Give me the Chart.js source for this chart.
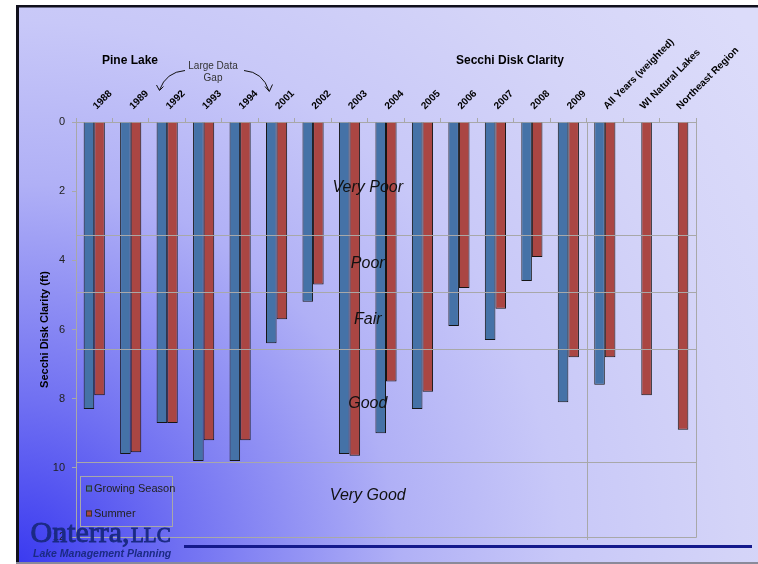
<!DOCTYPE html>
<html>
<head>
<meta charset="utf-8">
<script src="https://cdn.jsdelivr.net/npm/chart.js@4/dist/chart.umd.min.js"></script>
<style>
  html, body { margin: 0; padding: 0; background: #fff; }
  canvas { display: block; }
</style>
</head>
<body>
<canvas id="c" width="758" height="564"></canvas>
<script>
// Pine Lake Secchi disk clarity (ft), growing season and summer means
const categories = ['1988', '1989', '1992', '1993', '1994', '2001', '2002', '2003', '2004',
  '2005', '2006', '2007', '2008', '2009', 'All Years (weighted)', 'WI Natural Lakes', 'Northeast Region'];
const growingSeason = [8.3, 9.6, 8.7, 9.8, 9.8, 6.4, 5.2, 9.6, 9.0, 8.3, 5.9, 6.3, 4.6, 8.1, 7.6, null, null];
const summer = [7.9, 9.55, 8.7, 9.2, 9.2, 5.7, 4.7, 9.65, 7.5, 7.8, 4.8, 5.4, 3.9, 6.8, 6.8, 7.9, 8.9];
const yTicks = [0, 2, 4, 6, 8, 10, 12];

// Water clarity classes: break depths (ft) and label depths
const zoneBreaks = [3.28, 4.92, 6.56, 9.84];
const zoneNames = ['Very Poor', 'Poor', 'Fair', 'Good', 'Very Good'];
const zoneLabelDepths = [1.9, 4.1, 5.7, 8.15, 10.8];

const SANS = '"Liberation Sans", Arial, sans-serif';
const SERIF = '"Liberation Serif", "Times New Roman", serif';
const GRID = '#a8a8a8';

const decorations = {
  id: 'decorations',
  beforeDraw(chart) {
    const { ctx, width, height } = chart;
    ctx.save();
    ctx.fillStyle = '#fff';
    ctx.fillRect(0, 0, width, height);
    const g = ctx.createRadialGradient(18, 564, 0, 18, 564, 905);
    g.addColorStop(0, '#3a3af0');
    g.addColorStop(0.18, '#7070f2');
    g.addColorStop(0.3, '#9090f4');
    g.addColorStop(0.42, '#b0b0f6');
    g.addColorStop(0.6, '#c8c8f8');
    g.addColorStop(0.8, '#d4d4f8');
    g.addColorStop(1, '#dcdcfa');
    ctx.fillStyle = g;
    ctx.fillRect(18, 6, width - 18, height - 6);
    // slide frame
    ctx.fillStyle = '#10101c';
    ctx.fillRect(16, 5, 3, height - 5);
    ctx.fillRect(16, 5, width - 16, 2.5);
    ctx.fillStyle = '#8a8a9a';
    ctx.fillRect(16, 562, width - 16, 2);
    ctx.restore();
  },
  afterDatasetsDraw(chart) {
    const { ctx, chartArea: a, scales: { x, y } } = chart;
    ctx.save();
    ctx.strokeStyle = GRID;
    ctx.lineWidth = 1;
    // class break lines
    zoneBreaks.forEach(v => {
      const py = Math.round(y.getPixelForValue(v)) + 0.5;
      ctx.beginPath();
      ctx.moveTo(a.left, py);
      ctx.lineTo(a.right, py);
      ctx.stroke();
    });
    // separator between annual values and summary values
    const sx = Math.round(x.getPixelForValue(13.5)) + 0.5;
    ctx.beginPath();
    ctx.moveTo(sx, a.top);
    ctx.lineTo(sx, a.bottom + 3);
    ctx.stroke();
    // right and bottom edges of the plot
    ctx.beginPath();
    ctx.moveTo(Math.round(a.right) + 0.5, a.top);
    ctx.lineTo(Math.round(a.right) + 0.5, Math.round(a.bottom) + 0.5);
    ctx.lineTo(a.left, Math.round(a.bottom) + 0.5);
    ctx.stroke();
    // class names
    ctx.fillStyle = '#111';
    ctx.font = 'italic 16px ' + SANS;
    ctx.textAlign = 'center';
    ctx.textBaseline = 'middle';
    const cx = x.getPixelForValue(7.5);
    zoneNames.forEach((n, i) => ctx.fillText(n, cx, y.getPixelForValue(zoneLabelDepths[i])));
    ctx.restore();
  },
  afterDraw(chart) {
    const { ctx } = chart;
    ctx.save();
    // headings
    ctx.fillStyle = '#000';
    ctx.font = 'bold 12px ' + SANS;
    ctx.textAlign = 'center';
    ctx.textBaseline = 'middle';
    ctx.fillText('Pine Lake', 130, 61);
    ctx.fillText('Secchi Disk Clarity', 510, 61);
    // data gap note with arrows
    ctx.fillStyle = '#333';
    ctx.font = '10px ' + SANS;
    ctx.fillText('Large Data', 213, 66);
    ctx.fillText('Gap', 213, 78);
    ctx.strokeStyle = '#111';
    ctx.lineWidth = 1;
    ctx.beginPath();
    ctx.moveTo(185, 70.5);
    ctx.quadraticCurveTo(166, 72, 159.5, 90);
    ctx.moveTo(156.5, 85);
    ctx.lineTo(159.5, 90.5);
    ctx.lineTo(163.5, 86.5);
    ctx.moveTo(244, 70.5);
    ctx.quadraticCurveTo(263, 72, 269, 91);
    ctx.moveTo(265, 86.5);
    ctx.lineTo(269.3, 91.5);
    ctx.lineTo(272.5, 84.5);
    ctx.stroke();

    // legend
    ctx.strokeStyle = GRID;
    ctx.strokeRect(80.5, 476.5, 92, 50);
    ctx.font = '11px ' + SANS;
    ctx.textAlign = 'left';
    ctx.textBaseline = 'middle';
    const rowsY = [488.5, 513.5];
    chart.data.datasets.forEach((ds, i) => {
      ctx.fillStyle = ds.backgroundColor;
      ctx.fillRect(86, rowsY[i] - 3, 6, 6);
      ctx.strokeStyle = '#333';
      ctx.strokeRect(86.5, rowsY[i] - 2.5, 5, 5);
      ctx.fillStyle = '#222';
      ctx.fillText(ds.label, 94, rowsY[i]);
    });

    // company mark
    ctx.fillStyle = '#1b2a84';
    ctx.strokeStyle = '#1b2a84';
    ctx.lineWidth = 0.9;
    ctx.textBaseline = 'alphabetic';
    ctx.font = '30px ' + SERIF;
    ctx.fillText('Onterra,', 30.5, 542);
    ctx.strokeText('Onterra,', 30.5, 542);
    ctx.font = '21px ' + SERIF;
    ctx.fillText('LLC', 131, 542);
    ctx.strokeText('LLC', 131, 542);
    ctx.font = 'italic bold 10.5px ' + SANS;
    ctx.textBaseline = 'middle';
    ctx.fillText('Lake Management Planning', 33, 554);
    ctx.fillStyle = '#14198c';
    ctx.fillRect(184, 545, 568, 3);
    ctx.restore();
  }
};

new Chart(document.getElementById('c'), {
  type: 'bar',
  data: {
    labels: categories,
    datasets: [
      { label: 'Growing Season', data: growingSeason, backgroundColor: '#4572a7',
        borderColor: '#151515', borderWidth: 1, borderSkipped: 'start' },
      { label: 'Summer', data: summer, backgroundColor: '#aa4643',
        borderColor: '#151515', borderWidth: 1, borderSkipped: 'start' }
    ]
  },
  options: {
    responsive: false,
    animation: false,
    devicePixelRatio: 1,
    layout: { padding: { left: 0, top: 0, right: 62, bottom: 27 } },
    datasets: { bar: { categoryPercentage: 0.58, barPercentage: 1.0 } },
    plugins: { legend: { display: false }, tooltip: { enabled: false } },
    scales: {
      x: {
        position: 'top',
        grid: { display: true, drawOnChartArea: false, drawTicks: true, tickLength: 4, color: GRID, offset: true },
        border: { display: true, color: GRID },
        ticks: { autoSkip: false, minRotation: 45, maxRotation: 45, padding: 6, labelOffset: 9, color: '#000',
          font: { family: SANS, size: 10, weight: 'bold' } },
        afterFit(s) { s.height = 122; }
      },
      y: {
        reverse: true,
        min: 0,
        max: 12,
        afterBuildTicks(s) { s.ticks = yTicks.map(v => ({ value: v })); },
        grid: { display: true, drawOnChartArea: false, drawTicks: true, tickLength: 4, color: GRID },
        border: { display: true, color: GRID },
        ticks: { padding: 7, color: '#222', font: { family: SANS, size: 11 } },
        title: { display: true, text: 'Secchi Disk Clarity (ft)', color: '#000',
          font: { family: SANS, size: 11, weight: 'bold' }, padding: { top: 38, bottom: 0 } },
        afterFit(s) { s.width = 76; }
      }
    }
  },
  plugins: [decorations]
});
</script>
</body>
</html>
